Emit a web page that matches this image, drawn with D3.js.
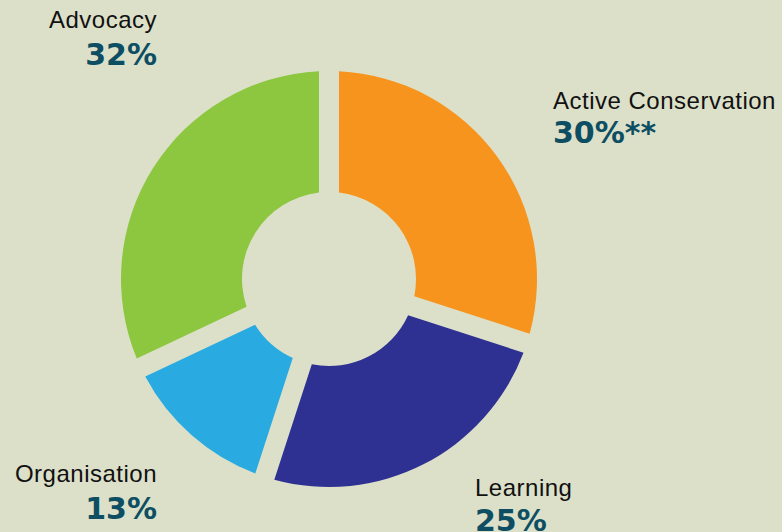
<!DOCTYPE html>
<html>
<head>
<meta charset="utf-8">
<script src="https://cdn.jsdelivr.net/npm/d3@7"></script>
<style>
  html, body { margin: 0; padding: 0; background: #dce0c9; }
  .label { font-family: "Liberation Sans", Arial, sans-serif; font-size: 24px; letter-spacing: 0.5px; fill: #111; }
  .pct { font-family: "DejaVu Sans", sans-serif; font-weight: bold; font-size: 30px; fill: #0d4e62; }
</style>
</head>
<body>
<div id="wrapper"></div>
<script>
// data, clockwise from 12 o'clock
const categories = ["Active Conservation", "Learning", "Organisation", "Advocacy"];
const shares = [30, 25, 13, 32];
const shareLabels = ["30%**", "25%", "13%", "32%"];
const colors = ["#f7941d", "#2e3192", "#29abe2", "#8dc63f"];

// where each label block sits (anchor x, label baseline, percent baseline)
const labelPos = [
  { x: 553, y1: 109, y2: 143, anchor: "start" },
  { x: 475, y1: 496, y2: 531, anchor: "start" },
  { x: 157, y1: 482, y2: 519, anchor: "end" },
  { x: 157, y1: 28, y2: 65, anchor: "end" },
];

function drawDonut() {
  const dimensions = { width: 782, height: 532 };
  const cx = 329, cy = 279;
  const outerRadius = 208, innerRadius = 87;
  const gap = 20;

  const svg = d3.select("#wrapper")
    .append("svg")
      .attr("width", dimensions.width)
      .attr("height", dimensions.height);

  svg.append("rect")
      .attr("width", dimensions.width)
      .attr("height", dimensions.height)
      .attr("fill", "#dce0c9");

  const rows = categories.map((c, i) => ({ name: c, value: shares[i], i }));

  const pie = d3.pie()
      .sort(null)
      .value(d => d.value);

  // constant-width gaps between slices
  const arc = d3.arc()
      .innerRadius(innerRadius)
      .outerRadius(outerRadius)
      .padRadius(outerRadius)
      .padAngle(gap / outerRadius);

  const g = svg.append("g")
      .attr("transform", `translate(${cx}, ${cy})`);

  g.selectAll("path")
    .data(pie(rows))
    .join("path")
      .attr("fill", d => colors[d.data.i])
      .attr("d", arc);

  // labels
  const lab = svg.selectAll("g.lab")
    .data(rows)
    .join("g")
      .attr("class", "lab");

  lab.append("text")
      .attr("class", "label")
      .attr("x", d => labelPos[d.i].x)
      .attr("y", d => labelPos[d.i].y1)
      .attr("text-anchor", d => labelPos[d.i].anchor)
      .text(d => d.name);

  lab.append("text")
      .attr("class", "pct")
      .attr("x", d => labelPos[d.i].x)
      .attr("y", d => labelPos[d.i].y2)
      .attr("text-anchor", d => labelPos[d.i].anchor)
      .text(d => shareLabels[d.i]);
}
drawDonut();
</script>
</body>
</html>
